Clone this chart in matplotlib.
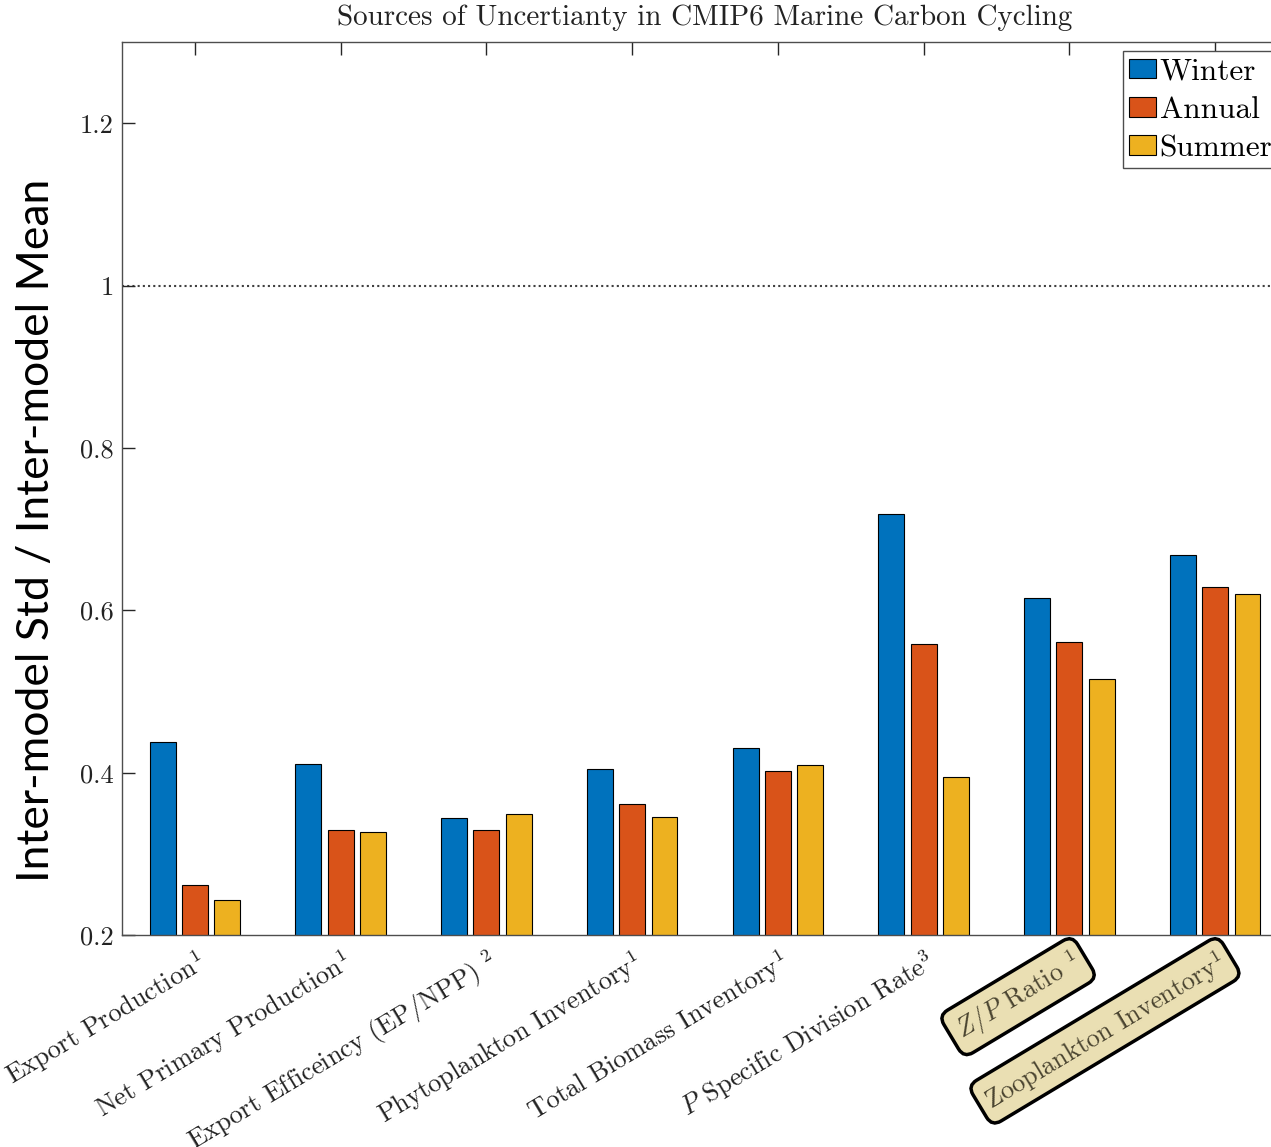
import numpy as np
import matplotlib
matplotlib.use("Agg")
import matplotlib.pyplot as plt
from matplotlib.patches import Patch

plt.rcParams['font.family'] = ['cmr10', 'DejaVu Serif']
plt.rcParams['mathtext.fontset'] = 'cm'
plt.rcParams['axes.formatter.use_mathtext'] = True

# inter-model std / inter-model mean per variable
variables = [
    r"Export Production$^1$",
    r"Net Primary Production$^1$",
    r"Export Efficeincy (EP/NPP) $^2$",
    r"Phytoplankton Inventory$^1$",
    r"Total Biomass Inventory$^1$",
    r"$P$ Specific Division Rate$^3$",
    r"$Z/P$ Ratio $^1$",
    r"Zooplankton Inventory$^1$",
]
highlighted = [6, 7]
seasons = ["Winter", "Annual", "Summer"]
winter = [0.438, 0.411, 0.344, 0.404, 0.430, 0.719, 0.615, 0.668]
annual = [0.262, 0.329, 0.329, 0.361, 0.402, 0.558, 0.561, 0.629]
summer = [0.243, 0.327, 0.349, 0.345, 0.409, 0.395, 0.515, 0.620]
yticks = [0.2, 0.4, 0.6, 0.8, 1.0, 1.2]
yticklabels = ["0.2", "0.4", "0.6", "0.8", "1", "1.2"]

colors = ['#0072BD', '#D95319', '#EDB120']
axcol = '#262626'

fig = plt.figure(figsize=(12.71, 11.47), dpi=100)
ax = fig.add_axes([0.096, 0.1848, 0.9174, 0.7786])

x = np.arange(1, len(variables) + 1)
step = 0.222
width = 0.178
for i, (vals, c) in enumerate(zip([winter, annual, summer], colors)):
    ax.bar(x + (i - 1) * step, vals, width, color=c, edgecolor='black',
           linewidth=0.8, zorder=2)

ax.axhline(1.0, color='#404040', linestyle=(0, (1, 1.5)), linewidth=1.5, zorder=1)

ax.set_xlim(0.5, 8.5)
ax.set_ylim(0.2, 1.3)
ax.set_yticks(yticks)
ax.set_yticklabels(yticklabels)
ax.set_xticks(x)
ax.set_xticklabels(variables, rotation=31, ha='right', va='top',
                   rotation_mode='anchor')
ax.tick_params(axis='both', direction='in', length=9, width=1.0,
               colors=axcol, labelsize=19, labelcolor='#222222')
ax.tick_params(axis='x', top=True, pad=8)
ax.tick_params(axis='y', pad=6)
for s in ax.spines.values():
    s.set_color('#4d4d4d')
    s.set_linewidth(1.0)

for k in highlighted:
    lab = ax.get_xticklabels()[k]
    lab.set_color('#4a4430')
    lab.set_bbox(dict(boxstyle='round,pad=0.3,rounding_size=0.4',
                      facecolor='#eadfb3', edgecolor='black', linewidth=2.5))

ax.set_title("Sources of Uncertianty in CMIP6 Marine Carbon Cycling",
             fontsize=21, color='#222222', pad=12)

handles = [Patch(facecolor=c, edgecolor='black', linewidth=0.8) for c in colors]
ax.legend(handles, seasons, loc='upper right', fontsize=22.5, frameon=True,
          fancybox=False, edgecolor='#4d4d4d', framealpha=1,
          handlelength=0.85, handleheight=0.6, handletextpad=0.12,
          borderpad=0.2, labelspacing=0.33, borderaxespad=0.3)

fig.text(37 / 1271, 1 - 530 / 1147, "Inter-model Std / Inter-model Mean",
         family=['Lato', 'DejaVu Sans'], fontsize=32, rotation=90,
         ha='center', va='center', color='black')

fig.savefig("out.png", dpi=100)
